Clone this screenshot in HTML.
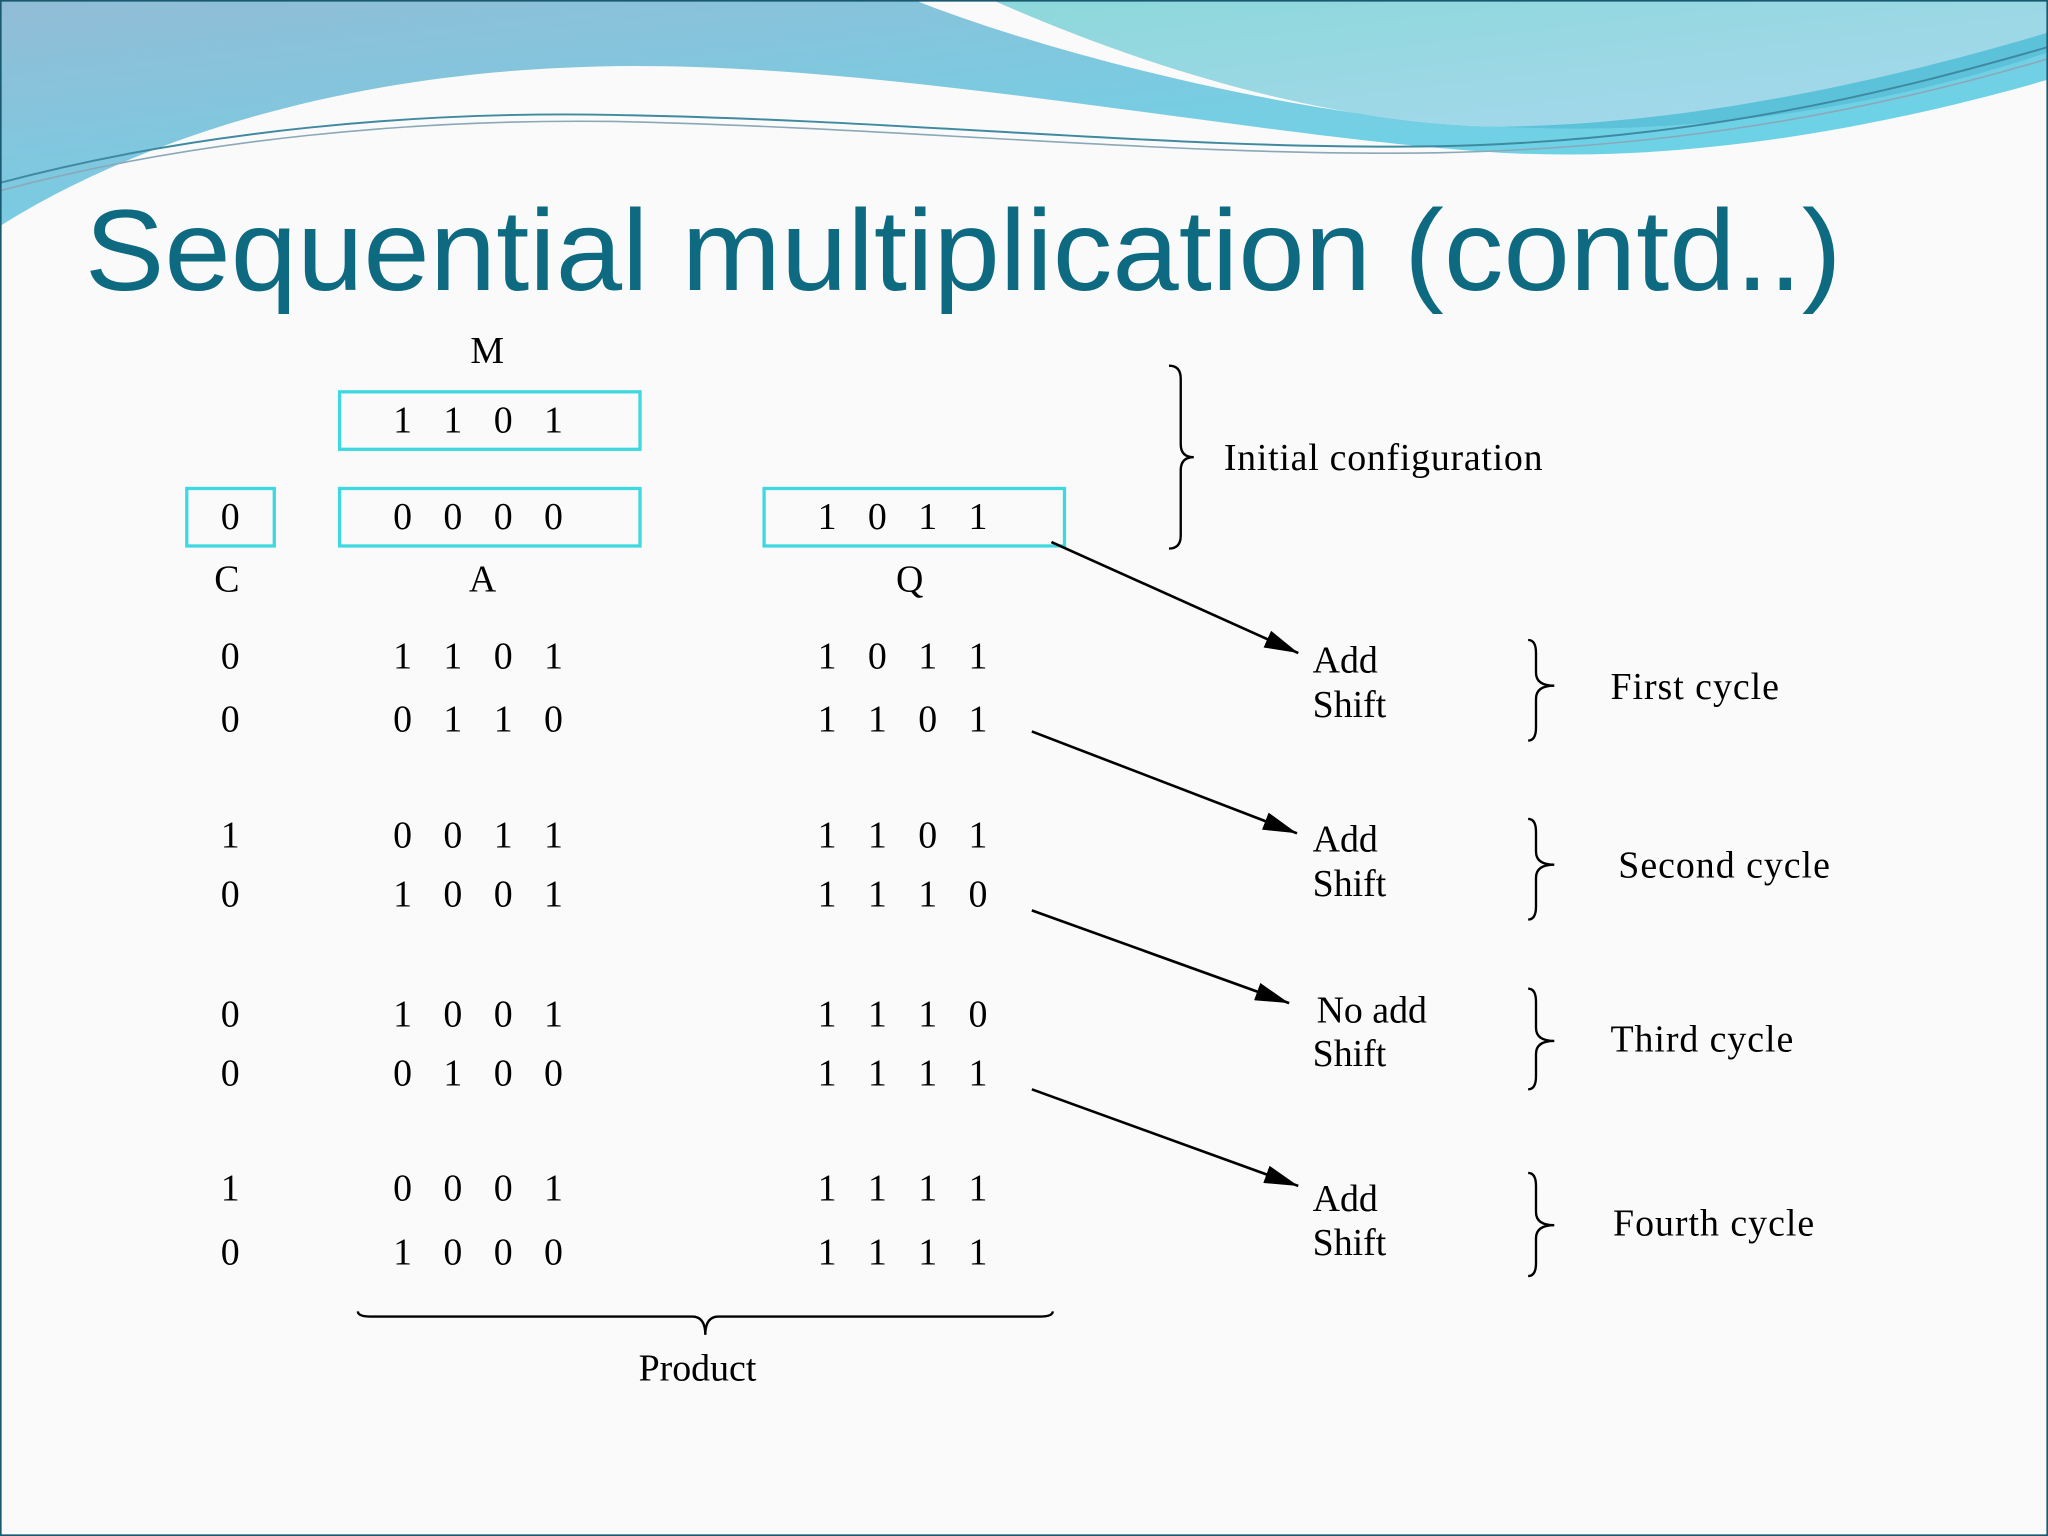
<!DOCTYPE html>
<html><head><meta charset="utf-8"><style>html,body{margin:0;padding:0;background:#fafafa}svg{display:block}</style></head><body>
<svg width="2048" height="1536" viewBox="0 0 1568 1176" xmlns="http://www.w3.org/2000/svg">
<defs>
<linearGradient id="g1" x1="0" y1="0" x2="1" y2="1"><stop offset="0" stop-color="#92bcd6"/><stop offset="0.6" stop-color="#74cfe4"/><stop offset="1" stop-color="#5fd8ea"/></linearGradient>
<linearGradient id="g2" x1="0" y1="0" x2="1" y2="1"><stop offset="0" stop-color="#8cd8da"/><stop offset="1" stop-color="#a8d8ee"/></linearGradient>
<marker id="ah" markerWidth="26" markerHeight="14" refX="26" refY="7" orient="auto" markerUnits="userSpaceOnUse" viewBox="0 0 26 14"><path d="M0,0 L26,7 L0,14 z" fill="#000"/></marker>
</defs>
<rect width="1568" height="1176" fill="#fafafa"/>
<path d="M0,0 H1568 V61 C1450,95 1300,125 1150,117 C950,105 650,40 430,52 C250,60 100,110 0,173 Z" fill="url(#g1)"/>
<path d="M700,0 H760 C850,40 1000,95 1150,97 C1000,92 800,40 700,0 Z" fill="#fafafa"/>
<path d="M760,0 H1568 V25 C1450,60 1300,95 1150,97 C1000,95 850,40 760,0 Z" fill="url(#g2)"/>
<path d="M1150,97 C1300,95 1450,60 1568,25 V40 C1450,80 1300,105 1150,97 Z" fill="#5cc2da"/>
<path d="M0,140 C150,100 320,85 470,88 C700,92 900,115 1100,112 C1300,108 1450,70 1568,36" fill="none" stroke="#3f8aa0" stroke-width="1.5"/>
<path d="M0,146 C150,106 320,91 470,93 C700,98 900,120 1100,117 C1300,113 1450,80 1568,45" fill="none" stroke="#8aa8b8" stroke-width="1.2"/>
<rect x="0.5" y="0.5" width="1567" height="1175" fill="none" stroke="#1a5a70" stroke-width="1.5"/>
<text x="65" y="222" font-family="Liberation Sans, sans-serif" font-size="88" fill="#0e6a80" textLength="1345" lengthAdjust="spacingAndGlyphs">Sequential multiplication (contd..)</text>
<g font-family="Liberation Serif, serif" font-size="29" fill="#000">
<text x="373" y="278" text-anchor="middle">M</text>
<rect x="260" y="300" width="230" height="44" fill="none" stroke="#3dd8e0" stroke-width="2.5"/>
<rect x="143" y="374" width="67" height="44" fill="none" stroke="#3dd8e0" stroke-width="2.5"/>
<rect x="260" y="374" width="230" height="44" fill="none" stroke="#3dd8e0" stroke-width="2.5"/>
<rect x="585" y="374" width="230" height="44" fill="none" stroke="#3dd8e0" stroke-width="2.5"/>
<text x="301 339.5 378 416.5" y="331">1101</text>
<text x="169" y="405">0</text>
<text x="301 339.5 378 416.5" y="405">0000</text>
<text x="626 664.5 703 741.5" y="405">1011</text>
<text x="164" y="453">C</text><text x="359" y="453">A</text><text x="686" y="453">Q</text>
<text x="169" y="512">0</text><text x="301 339.5 378 416.5" y="512">1101</text><text x="626 664.5 703 741.5" y="512">1011</text>
<text x="169" y="560">0</text><text x="301 339.5 378 416.5" y="560">0110</text><text x="626 664.5 703 741.5" y="560">1101</text>
<text x="169" y="649">1</text><text x="301 339.5 378 416.5" y="649">0011</text><text x="626 664.5 703 741.5" y="649">1101</text>
<text x="169" y="694">0</text><text x="301 339.5 378 416.5" y="694">1001</text><text x="626 664.5 703 741.5" y="694">1110</text>
<text x="169" y="786">0</text><text x="301 339.5 378 416.5" y="786">1001</text><text x="626 664.5 703 741.5" y="786">1110</text>
<text x="169" y="831">0</text><text x="301 339.5 378 416.5" y="831">0100</text><text x="626 664.5 703 741.5" y="831">1111</text>
<text x="169" y="919">1</text><text x="301 339.5 378 416.5" y="919">0001</text><text x="626 664.5 703 741.5" y="919">1111</text>
<text x="169" y="968">0</text><text x="301 339.5 378 416.5" y="968">1000</text><text x="626 664.5 703 741.5" y="968">1111</text>
<text x="937" y="360" textLength="244">Initial configuration</text>
<text x="1005" y="515">Add</text><text x="1005" y="549">Shift</text>
<text x="1005" y="652">Add</text><text x="1005" y="686">Shift</text>
<text x="1008" y="783">No add</text><text x="1005" y="816">Shift</text>
<text x="1005" y="927">Add</text><text x="1005" y="961">Shift</text>
<text x="1233" y="535" textLength="129">First cycle</text>
<text x="1239" y="672" textLength="162">Second cycle</text>
<text x="1233" y="805" textLength="140">Third cycle</text>
<text x="1235" y="946" textLength="154">Fourth cycle</text>
<text x="534" y="1057" text-anchor="middle">Product</text>
</g>
<g fill="none" stroke="#000" stroke-width="2">
<line x1="805" y1="415" x2="994" y2="500" marker-end="url(#ah)"/>
<line x1="790" y1="560" x2="993" y2="638" marker-end="url(#ah)"/>
<line x1="790" y1="697" x2="987" y2="768" marker-end="url(#ah)"/>
<line x1="790" y1="834" x2="994" y2="908" marker-end="url(#ah)"/>
</g>
<g fill="none" stroke="#000" stroke-width="1.8">
<path d="M895,280 Q904,280 904,290 V340 Q904,350 914,350 Q904,350 904,360 V410 Q904,420 895,420"/>
<path d="M1170,490 Q1176,490 1176,500 V515 Q1176,525 1190,525 Q1176,525 1176,535 V557 Q1176,567 1170,567"/>
<path d="M1170,627 Q1176,627 1176,637 V652 Q1176,662 1190,662 Q1176,662 1176,672 V694 Q1176,704 1170,704"/>
<path d="M1170,757 Q1176,757 1176,767 V787 Q1176,797 1190,797 Q1176,797 1176,807 V824 Q1176,834 1170,834"/>
<path d="M1170,898 Q1176,898 1176,908 V928 Q1176,938 1190,938 Q1176,938 1176,948 V967 Q1176,977 1170,977"/>
<path d="M274,1004 Q274,1008 284,1008 H530 Q540,1008 540,1022 Q540,1008 550,1008 H796 Q806,1008 806,1004"/>
</g>
</svg>
</body></html>
